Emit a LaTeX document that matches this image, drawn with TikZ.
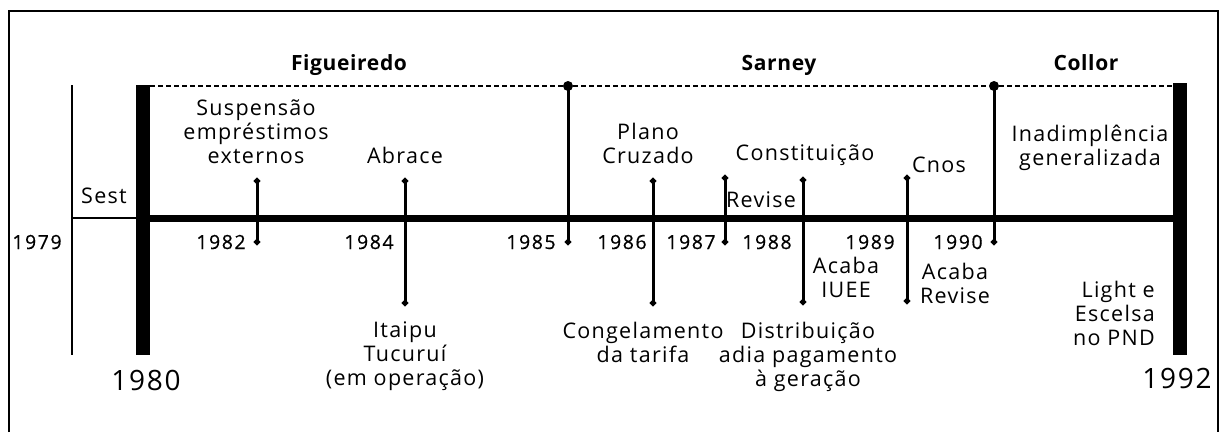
\documentclass[tikz,border=0pt]{standalone}
\usepackage{fontspec}
\setmainfont{Open Sans}[LetterSpace=6]
\newfontfamily\govfont{Open Sans}[LetterSpace=3]
\newfontfamily\yearfont{Open Sans}[LetterSpace=8, FakeBold=0.6]
\newfontfamily\bigyearfont{Open Sans}[LetterSpace=6]
\usetikzlibrary{arrows.meta}
\tikzset{
  lbl/.style={font=\fontsize{21.5}{24}\selectfont, align=center, inner sep=0pt, anchor=base},
  yr/.style={font=\yearfont\fontsize{19.5}{21}\selectfont, inner sep=0pt, anchor=base},
  bigyr/.style={font=\bigyearfont\fontsize{28}{30}\selectfont, inner sep=0pt, anchor=base},
  gov/.style={font=\govfont\bfseries\fontsize{21}{23}\selectfont, inner sep=0pt, anchor=base},
  frame/.style={line width=2pt},
  bar/.style={line width=14pt},
  axis/.style={line width=7pt},
  thinax/.style={line width=2.5pt},
  term/.style={line width=2pt, dash pattern=on 5pt off 3pt},
  tick/.style={line width=3pt, {Circle[length=6pt]}-{Circle[length=6pt]}},
  govtick/.style={line width=3pt, -{Circle[length=6pt]}},
  bigdot/.style={circle, fill=black, inner sep=0pt, minimum size=10pt}
}
\begin{document}
\begin{tikzpicture}[x=1pt, y=-1pt]
  \useasboundingbox (0,0) rectangle (1223,432);

  % frame, open at the bottom
  \coordinate (fbl) at (9,432);
  \coordinate (ftl) at (9,11);
  \coordinate (ftr) at (1218,11);
  \coordinate (fbr) at (1218,432);
  \draw[frame] (fbl) -- (ftl) -- (ftr) -- (fbr);

  % 1979 and 1980
  \coordinate (y79top) at (72,85);
  \coordinate (y79bot) at (72,355);
  \draw[thinax] (y79top) -- (y79bot);
  \coordinate (y80top) at (143,85);
  \coordinate (y80bot) at (143,355);
  \coordinate (y80mid) at (143,218);
  \coordinate (y79mid) at (72,218);
  \draw[thinax] (y79mid) -- (y80mid);

  % 1992
  \coordinate (y92top) at (1180,83);
  \coordinate (y92bot) at (1180,355);
  \coordinate (y92mid) at (1180,218);

  % terms of office
  \node[bigdot] (sarney) at (568,86) {};
  \node[bigdot] (collor) at (994,86) {};
  \coordinate (termstart) at (150,86);
  \coordinate (termend) at (1173,86);
  \draw[term] (termstart) -- (sarney) -- (collor) -- (termend);

  \draw[axis] (y80mid) -- (y92mid);
  \draw[bar] (y80top) -- (y80bot);
  \draw[bar] (y92top) -- (y92bot);

  \coordinate (t85) at (568,245);
  \coordinate (t90) at (994,245);
  \draw[govtick] (sarney.center) -- (t85);
  \draw[govtick] (collor.center) -- (t90);

  % events
  \coordinate (e82a) at (257,178); \coordinate (e82b) at (257,245);
  \coordinate (e84a) at (405,178); \coordinate (e84b) at (405,306);
  \coordinate (e86a) at (653,178); \coordinate (e86b) at (653,306);
  \coordinate (e87a) at (725,175); \coordinate (e87b) at (725,245);
  \coordinate (e88a) at (803,177); \coordinate (e88b) at (803,305);
  \coordinate (e89a) at (907,175); \coordinate (e89b) at (907,304);
  \draw[tick] (e82a) -- (e82b);
  \draw[tick] (e84a) -- (e84b);
  \draw[tick] (e86a) -- (e86b);
  \draw[tick] (e87a) -- (e87b);
  \draw[tick] (e88a) -- (e88b);
  \draw[tick] (e89a) -- (e89b);

  % presidents
  \node[gov] (figueiredo) at (349,70) {Figueiredo};
  \node[gov] (sarneylbl) at (779,70) {Sarney};
  \node[gov] (collorlbl) at (1086,70) {Collor};

  % years
  \node[yr] (n79) at (37,249) {1979};
  \node[yr] (n82) at (221,249) {1982};
  \node[yr] (n84) at (369,249) {1984};
  \node[yr] (n85) at (531,249) {1985};
  \node[yr] (n86) at (622,249) {1986};
  \node[yr] (n87) at (691,249) {1987};
  \node[yr] (n88) at (767,249) {1988};
  \node[yr] (n89) at (870,249) {1989};
  \node[yr] (n90) at (958,249) {1990};
  \node[bigyr] (n80) at (146,390) {1980};
  \node[bigyr] (n92) at (1177,388) {1992};

  % labels above (anchored at the last line)
  \node[lbl] (sest) at (104,203) {Sest};
  \node[lbl] (suspensao) at (256,163) {Suspensão\\empréstimos\\externos};
  \node[lbl] (abrace) at (405,163) {Abrace};
  \node[lbl] (plano) at (648,163) {Plano\\Cruzado};
  \node[lbl] (revise) at (761,207) {Revise};
  \node[lbl] (constituicao) at (805,160) {Constituição};
  \node[lbl] (cnos) at (939,172) {Cnos};
  \node[lbl] (inadimplencia) at (1090,165) {Inadimplência\\generalizada};

  % labels below
  \node[lbl] (itaipu) at (405,385) {Itaipu\\Tucuruí\\(em operação)};
  \node[lbl] (congelamento) at (643,362) {Congelamento\\da tarifa};
  \node[lbl] (distribuicao) at (808,386) {Distribuição\\adia pagamento\\à geração};
  \node[lbl] (iuee) at (846,297) {Acaba\\IUEE};
  \node[lbl] (fimrevise) at (955,303) {Acaba\\Revise};
  \node[lbl, align=right, anchor=base east] (light) at (1155,345) {Light e\\Escelsa\\no PND};
\end{tikzpicture}
\end{document}
